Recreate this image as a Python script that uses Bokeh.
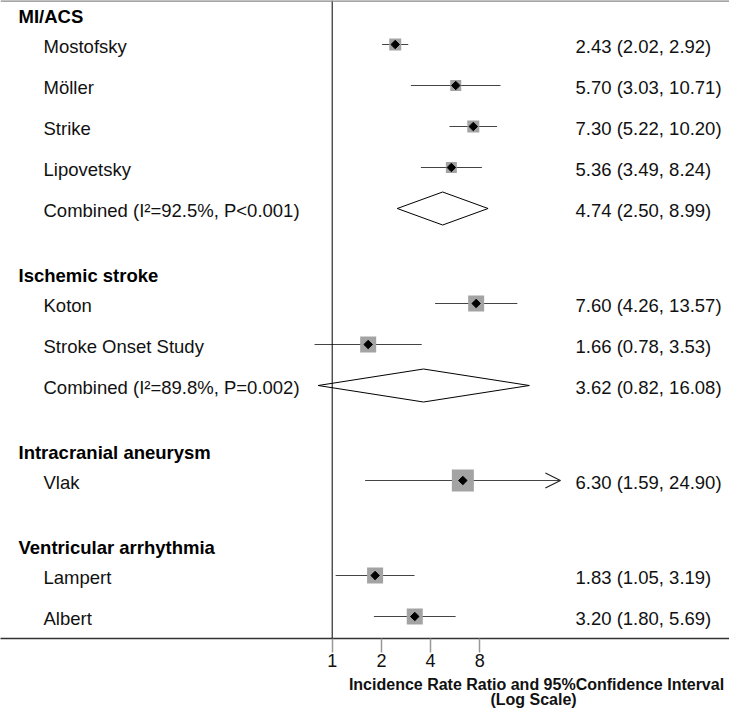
import math
from bokeh.plotting import figure
from bokeh.layouts import column
from bokeh.models import (Range1d, FixedTicker, Span, LabelSet, Label,
                          ColumnDataSource, Arrow, OpenHead)
from bokeh.embed import file_html
from bokeh.resources import INLINE
from bokeh.core.properties import value

# ---------------- data ----------------
groups = ["MI/ACS", "Ischemic stroke", "Intracranial aneurysm", "Ventricular arrhythmia"]

study_group = [0, 0, 0, 0, 1, 1, 2, 3, 3]
study_names = ["Mostofsky", "Möller", "Strike", "Lipovetsky", "Koton",
               "Stroke Onset Study", "Vlak", "Lampert", "Albert"]
study_irr = [2.43, 5.70, 7.30, 5.36, 7.60, 1.66, 6.30, 1.83, 3.20]
study_lo = [2.02, 3.03, 5.22, 3.49, 4.26, 0.78, 1.59, 1.05, 1.80]
study_hi = [2.92, 10.71, 10.20, 8.24, 13.57, 3.53, 24.90, 3.19, 5.69]
study_weight = [12, 11, 12, 11, 16, 16, 22, 16, 16]   # relative weight (box size)

pooled_group = [0, 1]
pooled_irr = [4.74, 3.62]
pooled_lo = [2.50, 0.82]
pooled_hi = [8.99, 16.08]
pooled_i2 = [92.5, 89.8]
pooled_p = ["<0.001", "=0.002"]

tick_values = [1, 2, 4, 8]
tick_labels = ["1", "2", "4", "8"]
axis_title = ["Incidence Rate Ratio and 95%Confidence Interval", "(Log Scale)"]

# ---------------- layout ----------------
W = 729
FRAME_H = 638
BOTTOM = 36
P1_H = FRAME_H + BOTTOM
P2_H = 708 - P1_H
PPD = 49.2          # pixels per doubling on the log axis
X_ONE = 331.7       # pixel position of ratio 1 from frame left
ROW = 41
HEAD_TO_ROW = 28
GROUP_GAP = 67
FIRST_HEAD = 16
DIAMOND_HALF = 16.5
ARROW_ABOVE = 20    # CIs beyond this get an arrow head
FONT = "Liberation Sans"
FS = "18.5px"
TXT = "#111111"

head_y = []
study_y = [None] * len(study_names)
pooled_y = [None] * len(pooled_irr)
cur = FIRST_HEAD
for g in range(len(groups)):
    if g > 0:
        cur += GROUP_GAP
    head_y.append(cur)
    cur += HEAD_TO_ROW
    first = True
    for i, sg in enumerate(study_group):
        if sg == g:
            if not first:
                cur += ROW
            study_y[i] = cur
            first = False
    for j, pg in enumerate(pooled_group):
        if pg == g:
            cur += ROW
            pooled_y[j] = cur

p = figure(width=W, height=P1_H, x_axis_type="log",
           x_range=Range1d(2 ** (-X_ONE / PPD), 2 ** ((W - X_ONE) / PPD)),
           y_range=Range1d(FRAME_H, 0),
           output_backend="svg", toolbar_location=None,
           min_border_left=0, min_border_right=0, min_border_top=0,
           min_border_bottom=BOTTOM, y_axis_location=None)
p.title.visible = False
p.outline_line_color = None
p.grid.visible = False
p.background_fill_color = "white"
p.border_fill_color = "white"

ax = p.xaxis[0]
ax.ticker = FixedTicker(ticks=tick_values, minor_ticks=[])
ax.major_label_overrides = {v: l for v, l in zip(tick_values, tick_labels)}
ax.axis_line_color = "#333333"
ax.axis_line_width = 1.5
ax.major_tick_in = 0
ax.major_tick_out = 14
ax.major_tick_line_color = "#999999"
ax.major_tick_line_width = 1.5
ax.minor_tick_line_color = None
ax.major_label_text_font = FONT
ax.major_label_text_font_size = "18px"
ax.major_label_text_color = TXT
ax.major_label_standoff = 1

p.add_layout(Span(location=1, dimension="height", line_color="black", line_width=1))
p.add_layout(Span(location=0, dimension="width", line_color="#888888", line_width=2.5))

# study CIs, boxes, points
ssrc = ColumnDataSource(dict(
    y=study_y, irr=study_irr, lo=study_lo, hi=study_hi, w=study_weight,
    name=study_names,
    txt=[f"{a:.2f} ({b:.2f}, {c:.2f})" for a, b, c in zip(study_irr, study_lo, study_hi)]))
p.segment(x0="lo", y0="y", x1="hi", y1="y", source=ssrc, line_color="#444444", line_width=1.2)
p.scatter(x="irr", y="y", size="w", marker="square", source=ssrc,
          fill_color="#a3a3a3", line_color=None)
p.scatter(x="irr", y="y", size=6, marker="square", angle=math.pi / 4, source=ssrc,
          fill_color="black", line_color="black")

for lo, hi, y in zip(study_lo, study_hi, study_y):
    if hi > ARROW_ABOVE:
        p.add_layout(Arrow(end=OpenHead(size=15, line_width=1.2, line_color="#222222"),
                           line_color=None, x_start=lo, y_start=y, x_end=hi, y_end=y))

# pooled diamonds
psrc = ColumnDataSource(dict(
    xs=[[lo, e, hi, e] for lo, e, hi in zip(pooled_lo, pooled_irr, pooled_hi)],
    ys=[[y, y - DIAMOND_HALF, y, y + DIAMOND_HALF] for y in pooled_y]))
p.patches(xs="xs", ys="ys", source=psrc, fill_color="white", line_color="black", line_width=1)

# texts
hsrc = ColumnDataSource(dict(y=head_y, t=groups))
p.add_layout(LabelSet(x=18, x_units="screen", y="y", text="t", source=hsrc,
                      text_font=value(FONT), text_font_size=FS, text_font_style="bold",
                      text_baseline="middle", text_color="black"))

row_y = study_y + pooled_y
row_name = study_names + [f"Combined (I²={i2}%, P{pp})" for i2, pp in zip(pooled_i2, pooled_p)]
row_txt = list(ssrc.data["txt"]) + [f"{a:.2f} ({b:.2f}, {c:.2f})"
                                    for a, b, c in zip(pooled_irr, pooled_lo, pooled_hi)]
rsrc = ColumnDataSource(dict(y=row_y, n=row_name, t=row_txt))
p.add_layout(LabelSet(x=43, x_units="screen", y="y", text="n", source=rsrc, y_offset=-2,
                      text_font=value(FONT), text_font_size=FS,
                      text_baseline="middle", text_color=TXT))
p.add_layout(LabelSet(x=575, x_units="screen", y="y", text="t", source=rsrc, y_offset=-2,
                      text_font=value(FONT), text_font_size=FS,
                      text_baseline="middle", text_color=TXT))

# axis title strip
p2 = figure(width=W, height=P2_H, x_range=Range1d(0, W), y_range=Range1d(P2_H, 0),
            output_backend="svg", toolbar_location=None,
            min_border_left=0, min_border_right=0, min_border_top=0, min_border_bottom=0,
            x_axis_location=None, y_axis_location=None)
p2.title.visible = False
p2.outline_line_color = None
p2.grid.visible = False
p2.add_layout(Label(x=536, y=10, text=axis_title[0],
                    text_font=FONT, text_font_size="16px", text_font_style="bold",
                    text_align="center", text_baseline="middle", text_color=TXT))
p2.add_layout(Label(x=533, y=25, text=axis_title[1],
                    text_font=FONT, text_font_size="16px", text_font_style="bold",
                    text_align="center", text_baseline="middle", text_color=TXT))

layout = column(p, p2, spacing=0)
open("out.html", "w").write(file_html(layout, INLINE))
